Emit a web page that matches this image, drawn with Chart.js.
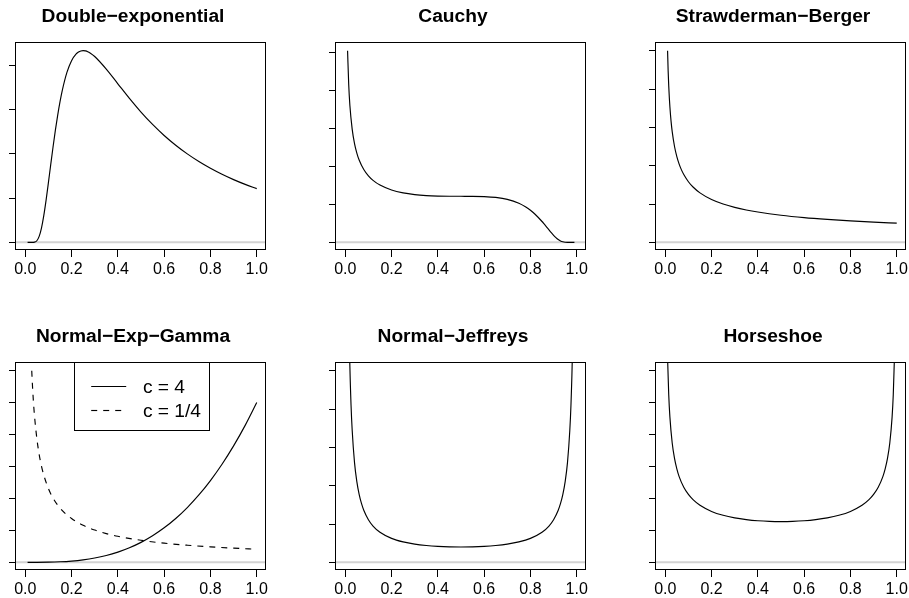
<!DOCTYPE html>
<html><head><meta charset="utf-8">
<script src="https://cdn.jsdelivr.net/npm/chart.js@4.4.1/dist/chart.umd.min.js"></script>
<style>
html,body{margin:0;padding:0;background:#fff;overflow:hidden;}
#wrap{position:relative;width:909px;height:598px;overflow:hidden;background:#fff;}
canvas{position:absolute;}
</style></head><body><div id="wrap">
<canvas id="c0" width="282" height="290" style="left:0px;top:0px"></canvas>
<canvas id="c1" width="282" height="290" style="left:320px;top:0px"></canvas>
<canvas id="c2" width="282" height="290" style="left:640px;top:0px"></canvas>
<canvas id="c3" width="282" height="290" style="left:0px;top:320px"></canvas>
<canvas id="c4" width="282" height="290" style="left:320px;top:320px"></canvas>
<canvas id="c5" width="282" height="290" style="left:640px;top:320px"></canvas>
</div>
<script>
// ---- data ----
const panelTitles = ["Double\u2212exponential","Cauchy","Strawderman\u2212Berger","Normal\u2212Exp\u2212Gamma","Normal\u2212Jeffreys","Horseshoe"];
const xTickValues = [0,0.2,0.4,0.6,0.8,1.0];
const yTicks4 = [0,1,2,3,4];
const yTicks5 = [0,1,2,3,4,5];
const yTicks6 = [0,1,2,3,4,5,6];

const deKappa = [0.01,0.02,0.03,0.04,0.05,0.06,0.07,0.08,0.09,0.10,0.11,0.12,0.13,0.14,0.15,0.16,0.18,0.20,0.22,0.23,0.24,0.25,0.26,0.27,0.28,0.30,0.35,0.40,0.45,0.50,0.55,0.60,0.65,0.70,0.75,0.80,0.85,0.90,0.95,1.00];
const deDensity = [0,0,0.0001,0.005,0.036,0.134,0.323,0.604,0.955,1.350,1.758,2.156,2.532,2.873,3.176,3.438,3.844,4.110,4.263,4.305,4.330,4.337,4.332,4.314,4.284,4.204,3.919,3.587,3.256,2.947,2.668,2.418,2.197,2.001,1.828,1.675,1.540,1.419,1.311,1.215];

const cauchyKappa = [0.01,0.015,0.02,0.03,0.04,0.05,0.06,0.08,0.10,0.12,0.15,0.20,0.25,0.30,0.35,0.40,0.45,0.50,0.55,0.60,0.65,0.70,0.75,0.78,0.80,0.82,0.85,0.86,0.87,0.88,0.89,0.90,0.91,0.92,0.93,0.94,0.95,0.96,0.98,0.99];
const cauchyDensity = [5.05,4.144,3.607,2.976,2.603,2.352,2.169,1.919,1.752,1.633,1.508,1.379,1.303,1.258,1.232,1.219,1.214,1.213,1.212,1.205,1.183,1.133,1.031,0.932,0.846,0.741,0.549,0.477,0.403,0.328,0.254,0.185,0.124,0.073,0.036,0.014,0.0034,0.0004,0,0];

const sbKappa = [0.01,0.0125,0.015,0.0175,0.02,0.025,0.03,0.04,0.05,0.06,0.07,0.08,0.10,0.12,0.15,0.20,0.25,0.30,0.35,0.40,0.50,0.60,0.70,0.80,0.90,1.00];
const sbDensity = [5.0,4.472,4.082,3.780,3.536,3.162,2.887,2.5,2.236,2.041,1.890,1.768,1.581,1.443,1.291,1.118,1.0,0.913,0.845,0.791,0.707,0.645,0.598,0.559,0.527,0.5];

const negLabels = ["c = 4","c = 1/4"];
const negKappaC4 = [0.01,0.05,0.10,0.15,0.20,0.25,0.30,0.35,0.40,0.45,0.50,0.55,0.60,0.65,0.70,0.75,0.80,0.85,0.90,0.95,1.00];
const negDensityC4 = [0,0.0006,0.005,0.017,0.04,0.078,0.135,0.214,0.32,0.456,0.625,0.832,1.08,1.373,1.715,2.109,2.56,3.07,3.645,4.287,5.0];
const negKappaCq = [0.028,0.03,0.035,0.04,0.05,0.06,0.07,0.08,0.10,0.12,0.15,0.20,0.25,0.30,0.35,0.40,0.50,0.60,0.70,0.80,0.90,1.00];
const negDensityCq = [6.0,5.69,5.06,4.58,3.88,3.38,3.01,2.73,2.31,2.01,1.70,1.37,1.16,1.01,0.90,0.815,0.69,0.60,0.536,0.485,0.444,0.41];

const njKappa = [0.01,0.015,0.02,0.025,0.03,0.04,0.05,0.06,0.07,0.08,0.10,0.12,0.15,0.20,0.25,0.30,0.35,0.40,0.45,0.50,0.55,0.60,0.65,0.70,0.75,0.80,0.85,0.88,0.90,0.92,0.93,0.94,0.95,0.96,0.97,0.975,0.98,0.985,0.99];
const njDensity = [10.1,6.77,5.10,4.10,3.44,2.60,2.105,1.773,1.536,1.359,1.111,0.947,0.784,0.625,0.533,0.476,0.440,0.417,0.404,0.400,0.404,0.417,0.440,0.476,0.533,0.625,0.784,0.947,1.111,1.359,1.536,1.773,2.105,2.60,3.44,4.10,5.10,6.77,10.1];

const hsKappa = [0.01,0.015,0.02,0.03,0.04,0.05,0.06,0.08,0.10,0.12,0.15,0.20,0.25,0.30,0.35,0.40,0.45,0.50,0.55,0.60,0.65,0.70,0.75,0.80,0.85,0.88,0.90,0.92,0.94,0.95,0.96,0.97,0.98,0.985,0.99];
const hsDensity = [6.41,5.245,4.554,3.737,3.253,2.925,2.684,2.350,2.125,1.962,1.785,1.594,1.472,1.391,1.337,1.301,1.281,1.275,1.281,1.301,1.337,1.391,1.472,1.594,1.785,1.962,2.125,2.350,2.684,2.925,3.253,3.737,4.554,5.245,6.41];

const panelYRange = [[-0.1735,4.51],[-0.202,5.252],[-0.2,5.2],[-0.24,6.24],[-0.2,5.2],[-0.24,6.24]];

// ---- drawing ----
const FONT = "'Liberation Sans', Arial, Helvetica, sans-serif";
function pts(xs, ys){ return xs.map((x,i)=>({x:x, y:ys[i]})); }
function series(label, xs, ys, dash){
  return {label:label, data:pts(xs,ys), borderColor:'#000', borderWidth:1.15, pointRadius:0,
          fill:false, cubicInterpolationMode:'monotone', borderDash:dash||[]};
}

const framePlugin = {
  id:'frame',
  beforeDatasetsDraw(chart){
    const ctx = chart.ctx, a = chart.chartArea, y = chart.scales.y;
    const yp = y.getPixelForValue(0);
    ctx.save();
    ctx.strokeStyle = '#d3d3d3'; ctx.lineWidth = 2;
    ctx.beginPath(); ctx.moveTo(a.left, yp); ctx.lineTo(a.right, yp); ctx.stroke();
    ctx.restore();
  },
  afterDatasetsDraw(chart, args, opts){
    const ctx = chart.ctx, a = chart.chartArea;
    ctx.save();
    ctx.strokeStyle = '#000'; ctx.lineWidth = 1;
    ctx.strokeRect(a.left-0.5, a.top-0.5, a.right-a.left, a.bottom-a.top);
    if (opts && opts.legend) {
      const w = 135, h = 68;
      const cx = (a.left + a.right)/2;
      const lx = Math.round(cx - w/2) + 0.5, ty = a.top - 0.5;
      ctx.fillStyle = '#fff';
      ctx.fillRect(lx, ty, w, h);
      ctx.strokeRect(lx, ty, w, h);
      const rows = [23.5, 47];
      chart.data.datasets.forEach((ds, i) => {
        const ry = Math.round(ty + rows[i]) + 0.5;
        ctx.lineWidth = 1.15;
        ctx.setLineDash(ds.borderDash || []);
        ctx.beginPath(); ctx.moveTo(lx+16.7, ry); ctx.lineTo(lx+51.7, ry); ctx.stroke();
        ctx.setLineDash([]);
        ctx.fillStyle = '#000';
        ctx.font = "19.2px " + FONT;
        ctx.textBaseline = 'middle'; ctx.textAlign = 'left';
        ctx.fillText(ds.label, lx+68.4, ry+1);
      });
    }
    ctx.restore();
  }
};

function makePanel(idx, datasets, yTicks, legend){
  const yr = panelYRange[idx];
  new Chart(document.getElementById('c'+idx), {
    type:'line',
    data:{datasets:datasets},
    options:{
      responsive:false, animation:false, events:[],
      layout:{padding:{left:0, right:16, top:0, bottom:0}},
      plugins:{
        legend:{display:false}, tooltip:{enabled:false},
        title:{display:true, text:panelTitles[idx], color:'#000',
               font:{family:FONT, size:19.2, weight:'bold', lineHeight:1.2},
               padding:{top:5.5, bottom:14.46}},
        frame:{legend:legend}
      },
      scales:{
        x:{type:'linear', min:-0.04, max:1.04,
           afterBuildTicks:s=>{ s.ticks = xTickValues.map(v=>({value:v})); },
           afterFit:s=>{ s.height = 40; },
           ticks:{font:{family:FONT, size:16}, color:'#000', padding:3, maxRotation:0, autoSkip:false,
                  callback:v=>Number(v).toFixed(1)},
           grid:{drawOnChartArea:false, drawTicks:true, tickLength:7, color:'#000', lineWidth:1},
           border:{display:false}},
        y:{type:'linear', min:yr[0], max:yr[1],
           afterBuildTicks:s=>{ s.ticks = yTicks.map(v=>({value:v})); },
           afterFit:s=>{ s.width = 16; },
           ticks:{display:false},
           grid:{drawOnChartArea:false, drawTicks:true, tickLength:7, color:'#000', lineWidth:1},
           border:{display:false}}
      }
    },
    plugins:[framePlugin]
  });
}

makePanel(0, [series('de', deKappa, deDensity)], yTicks4, false);
makePanel(1, [series('cauchy', cauchyKappa, cauchyDensity)], yTicks5, false);
makePanel(2, [series('sb', sbKappa, sbDensity)], yTicks5, false);
makePanel(3, [series(negLabels[0], negKappaC4, negDensityC4), series(negLabels[1], negKappaCq, negDensityCq, [6,6])], yTicks6, true);
makePanel(4, [series('nj', njKappa, njDensity)], yTicks5, false);
makePanel(5, [series('hs', hsKappa, hsDensity)], yTicks6, false);
</script>
</body></html>
